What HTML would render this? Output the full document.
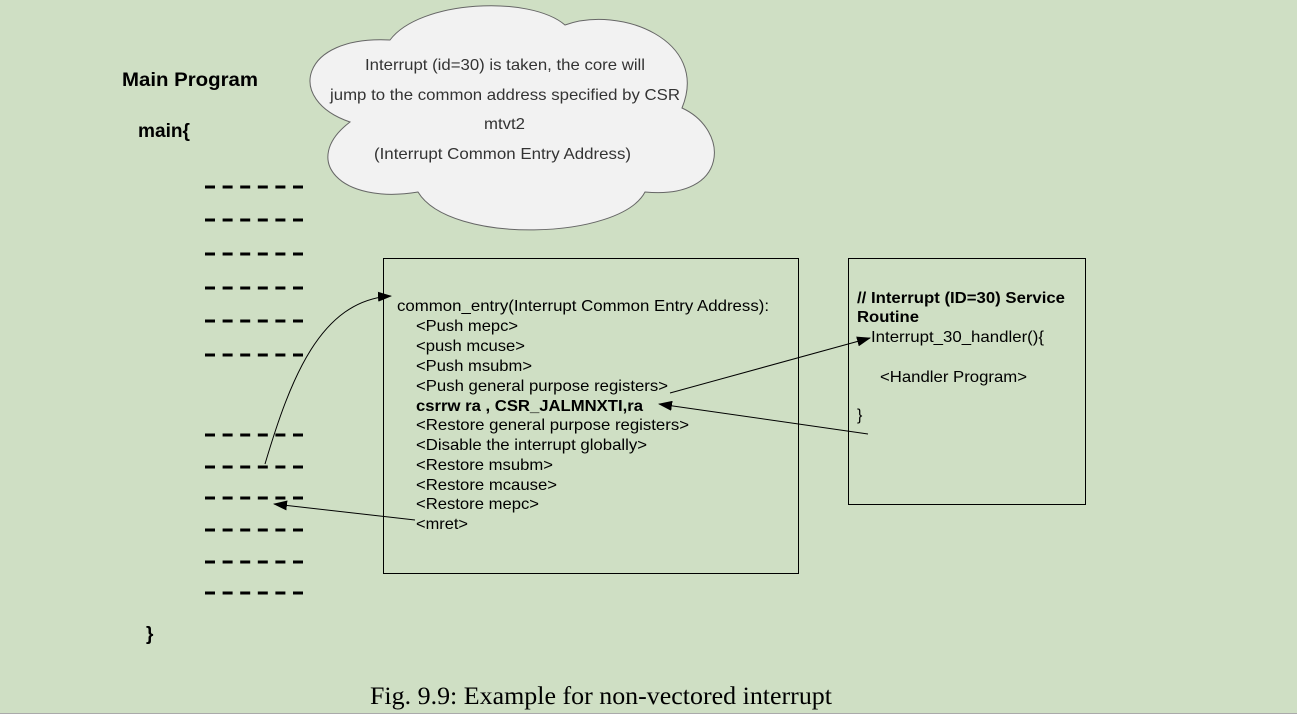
<!DOCTYPE html>
<html><head><meta charset="utf-8"><style>
html,body{margin:0;padding:0;background:#cfdfc4;}
svg{display:block;}
</style></head><body>
<svg width="1297" height="716" viewBox="0 0 1297 716" xmlns="http://www.w3.org/2000/svg" font-family="Liberation Sans, sans-serif">
<defs>
<marker id="ah" markerWidth="14" markerHeight="10" refX="13" refY="5" orient="auto" markerUnits="userSpaceOnUse">
<path d="M0,0 L14,5 L0,10 z" fill="#000"/></marker>
</defs>
<rect x="0" y="0" width="1297" height="716" fill="#cfdfc4"/>
<rect x="0" y="713" width="1297" height="3" fill="#fff"/>
<line x1="0" y1="713.5" x2="1297" y2="713.5" stroke="#aaa" stroke-width="1"/>

<path d="M390,40 C420,0 530,-5 565,25 C620,5 710,40 682,108 C730,130 730,200 645,192 C620,240 450,245 418,192 C340,205 300,160 350,122 C285,100 300,35 390,40 Z" fill="#f2f2f2" stroke="#666" stroke-width="1"/>
<g font-size="16" fill="#333">
<text x="365" y="70" textLength="280" lengthAdjust="spacingAndGlyphs">Interrupt (id=30) is taken, the core will</text>
<text x="330" y="100" textLength="350" lengthAdjust="spacingAndGlyphs">jump to the common address specified by CSR</text>
<text x="484" y="129" textLength="41" lengthAdjust="spacingAndGlyphs">mtvt2</text>
<text x="374" y="159" textLength="257" lengthAdjust="spacingAndGlyphs">(Interrupt Common Entry Address)</text>
</g>

<text x="122" y="86" font-size="19" font-weight="bold" textLength="136" lengthAdjust="spacingAndGlyphs">Main  Program</text>
<text x="138" y="137" font-size="19" font-weight="bold" textLength="52" lengthAdjust="spacingAndGlyphs">main{</text>
<text x="146" y="640" font-size="19" font-weight="bold">}</text>

<g stroke="#000" stroke-width="3" stroke-dasharray="10 7.6">
<line x1="205" y1="187" x2="304" y2="187"/>
<line x1="205" y1="220" x2="304" y2="220"/>
<line x1="205" y1="254" x2="304" y2="254"/>
<line x1="205" y1="288" x2="304" y2="288"/>
<line x1="205" y1="321" x2="304" y2="321"/>
<line x1="205" y1="355" x2="304" y2="355"/>
<line x1="205" y1="435" x2="304" y2="435"/>
<line x1="205" y1="467" x2="304" y2="467"/>
<line x1="205" y1="498" x2="304" y2="498"/>
<line x1="205" y1="530" x2="304" y2="530"/>
<line x1="205" y1="562" x2="304" y2="562"/>
<line x1="205" y1="593" x2="304" y2="593"/>
</g>

<rect x="383.5" y="258.5" width="415" height="315" fill="none" stroke="#000" stroke-width="1"/>
<rect x="848.5" y="258.5" width="237" height="246" fill="none" stroke="#000" stroke-width="1"/>

<g font-size="16" fill="#000">
<text x="397" y="311" textLength="372" lengthAdjust="spacingAndGlyphs">common_entry(Interrupt Common Entry Address):</text>
<text x="416" y="331" textLength="102" lengthAdjust="spacingAndGlyphs">&lt;Push mepc&gt;</text>
<text x="416" y="351" textLength="109" lengthAdjust="spacingAndGlyphs">&lt;push mcuse&gt;</text>
<text x="416" y="371" textLength="116" lengthAdjust="spacingAndGlyphs">&lt;Push msubm&gt;</text>
<text x="416" y="391" textLength="252" lengthAdjust="spacingAndGlyphs">&lt;Push general purpose registers&gt;</text>
<text x="416" y="411" font-weight="bold" textLength="227" lengthAdjust="spacingAndGlyphs">csrrw ra , CSR_JALMNXTI,ra</text>
<text x="416" y="430" textLength="273" lengthAdjust="spacingAndGlyphs">&lt;Restore general purpose registers&gt;</text>
<text x="416" y="450" textLength="231" lengthAdjust="spacingAndGlyphs">&lt;Disable the interrupt globally&gt;</text>
<text x="416" y="470" textLength="137" lengthAdjust="spacingAndGlyphs">&lt;Restore msubm&gt;</text>
<text x="416" y="490" textLength="141" lengthAdjust="spacingAndGlyphs">&lt;Restore mcause&gt;</text>
<text x="416" y="509" textLength="123" lengthAdjust="spacingAndGlyphs">&lt;Restore mepc&gt;</text>
<text x="416" y="529" textLength="52" lengthAdjust="spacingAndGlyphs">&lt;mret&gt;</text>

<text x="857" y="303" font-weight="bold" textLength="208" lengthAdjust="spacingAndGlyphs">// Interrupt (ID=30) Service</text>
<text x="857" y="322" font-weight="bold" textLength="62" lengthAdjust="spacingAndGlyphs">Routine</text>
<text x="871" y="342" textLength="173" lengthAdjust="spacingAndGlyphs">Interrupt_30_handler(){</text>
<text x="880" y="382" textLength="147" lengthAdjust="spacingAndGlyphs">&lt;Handler Program&gt;</text>
<text x="857" y="420">}</text>
</g>

<g stroke="#000" stroke-width="1" fill="none">
<path d="M265,464 C290,380 320,300 391,296" marker-end="url(#ah)"/>
<line x1="415" y1="520" x2="274" y2="504" marker-end="url(#ah)"/>
<line x1="670" y1="393" x2="870" y2="338" marker-end="url(#ah)"/>
<line x1="868" y1="434" x2="659" y2="404" marker-end="url(#ah)"/>
</g>

<text x="370" y="704" font-family="Liberation Serif, serif" font-size="25" fill="#000" textLength="462" lengthAdjust="spacingAndGlyphs">Fig. 9.9: Example for non-vectored interrupt</text>
</svg>
</body></html>
